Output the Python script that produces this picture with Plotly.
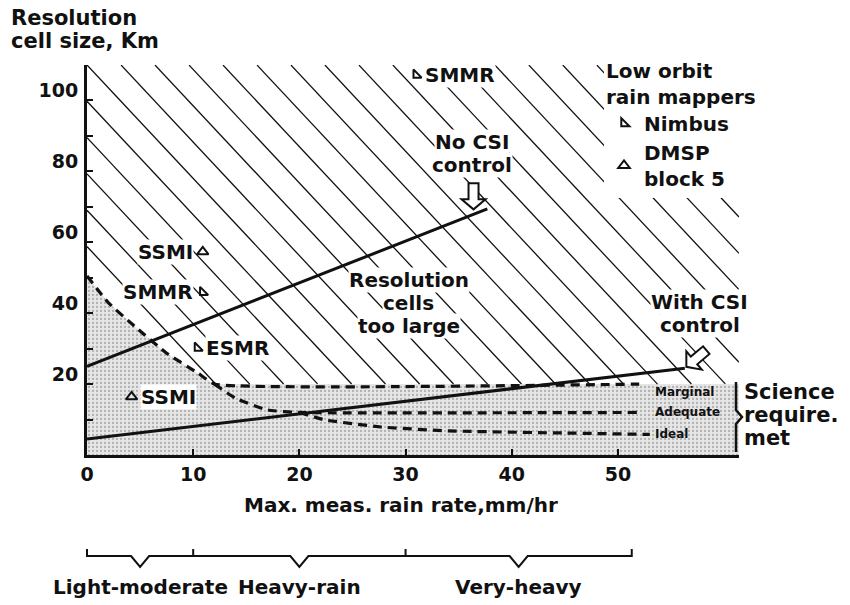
import numpy as np
import plotly.graph_objects as go

# ---------------- data ----------------
# science-requirement boundaries (dashed)
marginal_x = [0.0, 2.0, 4.6, 7.5, 10.5, 12.0, 52.0]
marginal_y = [50.5, 43.0, 36.0, 28.7, 23.0, 20.0, 20.0]
adequate_x = [12.0, 14.0, 17.0, 20.0, 52.0]
adequate_y = [20.0, 16.0, 12.7, 12.0, 12.0]
ideal_x = [20.0, 22.4, 27.7, 34.0, 45.0, 53.0]
ideal_y = [12.0, 9.9, 7.9, 6.8, 6.2, 5.8]
science_levels = ["Marginal", "Adequate", "Ideal"]

# performance lines (solid)
no_csi_x = [0.0, 37.7]
no_csi_y = [25.0, 69.4]
with_csi_x = [0.0, 56.3]
with_csi_y = [4.5, 24.5]

# low-orbit rain mappers
nimbus_names = ["SMMR", "SMMR", "ESMR"]
nimbus_x = [31.0, 10.9, 10.4]
nimbus_y = [107.2, 45.9, 30.2]
nimbus_side = ["right", "left", "right"]
dmsp_names = ["SSMI", "SSMI"]
dmsp_x = [10.9, 4.2]
dmsp_y = [57.3, 16.4]
dmsp_side = ["left", "right"]

# rain-rate classes under the x axis
rain_class_names = ["Light-moderate", "Heavy-rain", "Very-heavy"]
rain_class_edges = [0.0, 10.0, 30.0, 51.3]

# axes
x_tick_vals = [0, 10, 20, 30, 40, 50]
y_tick_vals = [10, 20, 30, 40, 50, 60, 70, 80, 90, 100, 110]
y_tick_text = ["", "20", "", "40", "", "60", "", "80", "", "100", ""]

# ---------------- geometry / style ----------------
XMAX = 61.4
YTOP = 110.0
L, R, T, B = 87, 111, 65, 150
W, H = 850, 605
PW, PH = W - L - R, H - T - B
FONT = "DejaVu Sans"
INK = "#111111"


def px_to_paper(xpx, ypx):
    return (xpx - L) / PW, (T + PH - ypx) / PH


def xdata_to_paper(x):
    return x / XMAX


fig = go.Figure()

# stippled "requirements met" region (below marginal boundary)
fig.add_trace(go.Scatter(
    x=[0.0] + marginal_x + [XMAX, XMAX, 0.0],
    y=[0.0] + marginal_y + [marginal_y[-1], 0.0, 0.0],
    mode="lines", fill="toself", line=dict(width=0),
    fillcolor="#e0e0e0",
    fillpattern=dict(shape=".", fgcolor="#7a7a7a", bgcolor="#e6e6e6",
                     size=4, solidity=0.25),
    hoverinfo="skip", showlegend=False))

# hatched "resolution cells too large" region (above marginal boundary)
HATCH_SLOPE = 3.2      # data units of y per unit of x
HATCH_STEP = 3.2       # horizontal spacing (x units)
xs = np.linspace(0, XMAX, 4000)
low = np.interp(xs, marginal_x, marginal_y)
hx, hy = [], []
for k in range(-6, 22):
    c = YTOP + k * HATCH_SLOPE * HATCH_STEP
    ys = c - HATCH_SLOPE * xs
    inside = (ys <= YTOP) & (ys >= low)
    edges = np.flatnonzero(np.diff(np.r_[0, inside.astype(int), 0]))
    for s, e in zip(edges[::2], edges[1::2]):
        if e - 1 > s:
            hx += [xs[s], xs[e - 1], None]
            hy += [ys[s], ys[e - 1], None]
fig.add_trace(go.Scatter(x=hx, y=hy, mode="lines",
                         line=dict(color=INK, width=1.3),
                         hoverinfo="skip", showlegend=False))

# dashed requirement curves
for xx, yy in [(marginal_x, marginal_y), (adequate_x, adequate_y), (ideal_x, ideal_y)]:
    fig.add_trace(go.Scatter(x=xx, y=yy, mode="lines",
                             line=dict(color=INK, width=3.2, dash="9px,6px", shape="spline", smoothing=0.4),
                             hoverinfo="skip", showlegend=False))

# solid performance lines
for xx, yy in [(no_csi_x, no_csi_y), (with_csi_x, with_csi_y)]:
    fig.add_trace(go.Scatter(x=xx, y=yy, mode="lines",
                             line=dict(color=INK, width=3),
                             hoverinfo="skip", showlegend=False))

# instruments
fig.add_trace(go.Scatter(x=nimbus_x, y=nimbus_y, mode="markers", name="Nimbus",
                         marker=dict(symbol="triangle-sw-open", size=9, color=INK,
                                     line=dict(width=2, color=INK))))
fig.add_trace(go.Scatter(x=dmsp_x, y=dmsp_y, mode="markers", name="DMSP<br>block 5",
                         marker=dict(symbol="triangle-up-open", size=10, color=INK,
                                     line=dict(width=2, color=INK))))

annotations = []


def label(x, y, text, size=20, xanchor="center", xshift=0, yshift=0,
          bg=None, xref="x", yref="y"):
    a = dict(x=x, y=y, xref=xref, yref=yref, text=text, showarrow=False,
             xanchor=xanchor, yanchor="middle", xshift=xshift, yshift=yshift,
             font=dict(family=FONT, size=size, color=INK, weight="bold"),
             borderpad=0)
    if bg:
        a["bgcolor"] = bg
    annotations.append(a)


def block(x, y, lines, spacing, size=20, xanchor="center", bg=None, xref="x", yref="y"):
    n = len(lines)
    for i, t in enumerate(lines):
        label(x, y, t, size=size, xanchor=xanchor, yshift=((n - 1) / 2 - i) * spacing,
              bg=bg, xref=xref, yref=yref)


# point labels
for names, xx, yy, sides in [(nimbus_names, nimbus_x, nimbus_y, nimbus_side),
                             (dmsp_names, dmsp_x, dmsp_y, dmsp_side)]:
    for n, x, y, sd in zip(names, xx, yy, sides):
        if sd == "right":
            label(x, y, n, xanchor="left", xshift=8, bg="white")
        else:
            label(x, y, n, xanchor="right", xshift=-9, bg="white")

# region / line captions
block(30.3, 42.8, ["Resolution", "cells", "too large"], 23, bg="white")
block(36.25, 84.9, ["No CSI", "control"], 23, bg="white")
block(57.7, 40.0, ["With CSI", "control"], 23, bg="white")

# requirement level labels
for name, yy, ysh in zip(science_levels, [marginal_y, adequate_y, ideal_y], [-8, 0, 0]):
    label(53.4, yy[-1], name, size=12, xanchor="left", yshift=ysh)

# "Science require. met" with brace
sx, sy = px_to_paper(743, 414.5)
block(sx, sy, ["Science", "require.", "met"], 23, size=21, xanchor="left",
      xref="paper", yref="paper")

# y-axis title (top left)
tx, ty = px_to_paper(10, 29)
block(tx, ty, ["Resolution", "cell size, Km"], 23, size=21, xanchor="left",
      xref="paper", yref="paper")

# x-axis title
ax_, ay_ = px_to_paper(401, 505)
label(ax_, ay_, "Max. meas. rain rate,mm/hr", size=20, xref="paper", yref="paper")

# rain-class bracket under the axis
_, yb = px_to_paper(0, 556)
_, yup = px_to_paper(0, 549)
_, ydn = px_to_paper(0, 567)
hw = xdata_to_paper(0.85)
e = [xdata_to_paper(v) for v in rain_class_edges]
path = f"M {e[0]},{yup} L {e[0]},{yb}"
for i in range(len(rain_class_names)):
    mid = (e[i] + e[i + 1]) / 2
    path += f" L {mid - hw},{yb} L {mid},{ydn} L {mid + hw},{yb} L {e[i + 1]},{yb} L {e[i + 1]},{yup} L {e[i + 1]},{yb}"
shapes = [dict(type="path", xref="paper", yref="paper", path=path,
               line=dict(color=INK, width=2))]
_, ylab = px_to_paper(0, 587)
for i, n in enumerate(rain_class_names):
    mid = (rain_class_edges[i] + rain_class_edges[i + 1]) / 2
    label(xdata_to_paper(mid), ylab, n, size=20, xref="paper", yref="paper")

# brace for "Science require. met"
bx, _ = px_to_paper(736, 0)
bx2, _ = px_to_paper(742, 0)
ys_ = [px_to_paper(0, v)[1] for v in (382, 410, 417, 424, 452)]
shapes.append(dict(type="path", xref="paper", yref="paper",
                   path=f"M {bx},{ys_[0]} L {bx},{ys_[1]} L {bx2},{ys_[2]} L {bx},{ys_[3]} L {bx},{ys_[4]}",
                   line=dict(color=INK, width=2.5)))


# hollow block arrows (pixel-sized, anchored on the data lines)
def hollow_arrow(ax, ay, rot_deg, gap=4):
    base = [(0, gap), (-12, gap + 10), (-5, gap + 10), (-5, gap + 26),
            (5, gap + 26), (5, gap + 10), (12, gap + 10)]
    t = np.radians(rot_deg)
    pts = [(x * np.cos(t) + y * np.sin(t), -x * np.sin(t) + y * np.cos(t)) for x, y in base]
    p = "M " + " L ".join(f"{x:.2f},{y:.2f}" for x, y in pts) + " Z"
    return dict(type="path", xref="x", yref="y", xsizemode="pixel", ysizemode="pixel",
                xanchor=ax, yanchor=ay, path=p, fillcolor="white",
                line=dict(color=INK, width=2), layer="above")


ax1 = 36.4
shapes.append(hollow_arrow(ax1, float(np.interp(ax1, no_csi_x, no_csi_y)), 0, gap=5))
shapes.append(hollow_arrow(with_csi_x[-1], with_csi_y[-1], 50, gap=2))

fig.update_layout(
    width=W, height=H,
    margin=dict(l=L, r=R, t=T, b=B, autoexpand=False),
    paper_bgcolor="white", plot_bgcolor="white",
    font=dict(family=FONT, size=20, color=INK, weight="bold"),
    xaxis=dict(range=[0, XMAX], showgrid=False, zeroline=False, showline=True,
               linewidth=3, linecolor=INK, ticks="inside", ticklen=6, tickwidth=2,
               tickcolor=INK, tickvals=x_tick_vals,
               tickfont=dict(family=FONT, size=19, color=INK, weight="bold"),
               ticklabelstandoff=0),
    yaxis=dict(range=[0, YTOP], showgrid=False, zeroline=False, showline=True,
               linewidth=3, linecolor=INK, ticks="inside", ticklen=6, tickwidth=2,
               tickcolor=INK, tickvals=y_tick_vals, ticktext=y_tick_text,
               tickfont=dict(family=FONT, size=19, color=INK, weight="bold"),
               ticklabelshift=-10, ticklabelstandoff=2),
    legend=dict(x=px_to_paper(604, 0)[0], y=px_to_paper(0, 52)[1], xanchor="left", yanchor="top",
                bgcolor="white", borderwidth=0,
                title=dict(text="Low orbit<br>rain mappers",
                           font=dict(family=FONT, size=20, color=INK, weight="bold")),
                font=dict(family=FONT, size=20, color=INK, weight="bold"),
                itemwidth=30),
    annotations=annotations,
    shapes=shapes,
    showlegend=True,
)

fig.write_html("out.html",
               config={"displayModeBar": False},
               post_script="document.body.style.margin='0';document.body.style.padding='0';")
